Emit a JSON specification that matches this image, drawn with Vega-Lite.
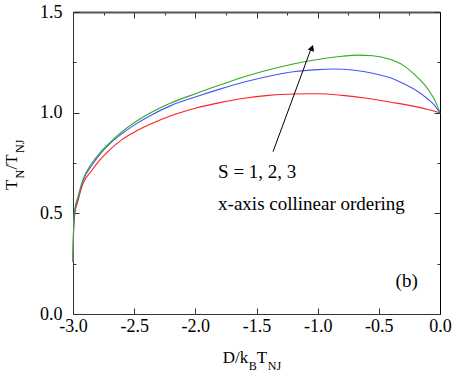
{
  "$schema": "https://vega.github.io/schema/vega-lite/v6.json",
  "width": 367,
  "height": 302,
  "autosize": {"type": "none"},
  "padding": {"left": 73, "top": 12, "right": 17, "bottom": 68},
  "background": "white",
  "config": {
    "view": {"stroke": null},
    "axis": {"grid": false, "domainColor": "#333", "tickColor": "#333", "labelFont": "Liberation Serif", "labelFontSize": 18, "labelColor": "black", "title": null}
  },
  "datasets": {
    "curves": [
      {"x": -3.0, "y": 0.26, "S": "1"}, {"x": -2.995, "y": 0.42, "S": "1"}, {"x": -2.985, "y": 0.5, "S": "1"}, {"x": -2.96, "y": 0.56, "S": "1"}, {"x": -2.92, "y": 0.645, "S": "1"}, {"x": -2.85, "y": 0.71, "S": "1"}, {"x": -2.78, "y": 0.765, "S": "1"}, {"x": -2.7, "y": 0.815, "S": "1"}, {"x": -2.6, "y": 0.866, "S": "1"}, {"x": -2.5, "y": 0.903, "S": "1"}, {"x": -2.37, "y": 0.942, "S": "1"}, {"x": -2.2, "y": 0.985, "S": "1"}, {"x": -2.0, "y": 1.022, "S": "1"}, {"x": -1.8, "y": 1.05, "S": "1"}, {"x": -1.6, "y": 1.072, "S": "1"}, {"x": -1.4, "y": 1.086, "S": "1"}, {"x": -1.2, "y": 1.093, "S": "1"}, {"x": -1.0, "y": 1.094, "S": "1"}, {"x": -0.8, "y": 1.086, "S": "1"}, {"x": -0.6, "y": 1.072, "S": "1"}, {"x": -0.4, "y": 1.052, "S": "1"}, {"x": -0.2, "y": 1.03, "S": "1"}, {"x": -0.1, "y": 1.016, "S": "1"}, {"x": 0.0, "y": 1.0, "S": "1"},
      {"x": -3.0, "y": 0.26, "S": "2"}, {"x": -2.995, "y": 0.43, "S": "2"}, {"x": -2.985, "y": 0.51, "S": "2"}, {"x": -2.96, "y": 0.575, "S": "2"}, {"x": -2.92, "y": 0.66, "S": "2"}, {"x": -2.85, "y": 0.735, "S": "2"}, {"x": -2.78, "y": 0.793, "S": "2"}, {"x": -2.7, "y": 0.845, "S": "2"}, {"x": -2.6, "y": 0.895, "S": "2"}, {"x": -2.5, "y": 0.938, "S": "2"}, {"x": -2.37, "y": 0.985, "S": "2"}, {"x": -2.2, "y": 1.035, "S": "2"}, {"x": -2.0, "y": 1.078, "S": "2"}, {"x": -1.8, "y": 1.117, "S": "2"}, {"x": -1.6, "y": 1.152, "S": "2"}, {"x": -1.4, "y": 1.181, "S": "2"}, {"x": -1.2, "y": 1.203, "S": "2"}, {"x": -1.0, "y": 1.214, "S": "2"}, {"x": -0.87, "y": 1.217, "S": "2"}, {"x": -0.7, "y": 1.211, "S": "2"}, {"x": -0.55, "y": 1.196, "S": "2"}, {"x": -0.4, "y": 1.172, "S": "2"}, {"x": -0.3, "y": 1.145, "S": "2"}, {"x": -0.2, "y": 1.113, "S": "2"}, {"x": -0.1, "y": 1.068, "S": "2"}, {"x": -0.05, "y": 1.04, "S": "2"}, {"x": 0.0, "y": 1.0, "S": "2"},
      {"x": -3.0, "y": 0.26, "S": "3"}, {"x": -2.995, "y": 0.44, "S": "3"}, {"x": -2.985, "y": 0.52, "S": "3"}, {"x": -2.96, "y": 0.58, "S": "3"}, {"x": -2.92, "y": 0.665, "S": "3"}, {"x": -2.85, "y": 0.745, "S": "3"}, {"x": -2.78, "y": 0.8, "S": "3"}, {"x": -2.7, "y": 0.85, "S": "3"}, {"x": -2.6, "y": 0.905, "S": "3"}, {"x": -2.5, "y": 0.95, "S": "3"}, {"x": -2.37, "y": 0.998, "S": "3"}, {"x": -2.2, "y": 1.048, "S": "3"}, {"x": -2.0, "y": 1.094, "S": "3"}, {"x": -1.8, "y": 1.137, "S": "3"}, {"x": -1.6, "y": 1.178, "S": "3"}, {"x": -1.4, "y": 1.213, "S": "3"}, {"x": -1.2, "y": 1.242, "S": "3"}, {"x": -1.0, "y": 1.264, "S": "3"}, {"x": -0.8, "y": 1.28, "S": "3"}, {"x": -0.68, "y": 1.286, "S": "3"}, {"x": -0.55, "y": 1.283, "S": "3"}, {"x": -0.41, "y": 1.265, "S": "3"}, {"x": -0.3, "y": 1.235, "S": "3"}, {"x": -0.2, "y": 1.185, "S": "3"}, {"x": -0.15, "y": 1.155, "S": "3"}, {"x": -0.1, "y": 1.118, "S": "3"}, {"x": -0.05, "y": 1.07, "S": "3"}, {"x": -0.02, "y": 1.03, "S": "3"}, {"x": 0.0, "y": 1.0, "S": "3"}
    ],
    "one": [{}]
  },
  "resolve": {"axis": {"x": "independent", "y": "independent"}},
  "layer": [
    {
      "layer": [
        {
          "data": {"name": "curves"},
          "mark": {"type": "line", "strokeWidth": 1.1, "interpolate": "monotone"},
          "encoding": {
            "x": {"field": "x", "type": "quantitative", "scale": {"domain": [-3, 0], "nice": false, "zero": false},
              "axis": {"orient": "bottom", "values": [-3, -2.75, -2.5, -2.25, -2, -1.75, -1.5, -1.25, -1, -0.75, -0.5, -0.25, 0],
                "labelExpr": "abs(datum.value*2 - round(datum.value*2)) < 0.001 ? (datum.value < 0 ? '-' : '') + format(abs(datum.value), '.1f') : ''",
                "tickSize": {"condition": {"test": "abs(datum.value*2 - round(datum.value*2)) > 0.001", "value": -3}, "value": -6},
                "labelPadding": 9, "labelFlush": false, "labelOverlap": false}},
            "y": {"field": "y", "type": "quantitative", "scale": {"domain": [0, 1.5], "nice": false, "zero": false},
              "axis": {"orient": "left", "values": [0, 0.25, 0.5, 0.75, 1, 1.25, 1.5],
                "labelExpr": "abs(datum.value*2 - round(datum.value*2)) < 0.001 ? format(datum.value, '.1f') : ''",
                "tickSize": {"condition": {"test": "abs(datum.value*2 - round(datum.value*2)) > 0.001", "value": -3}, "value": -6},
                "labelPadding": 17, "labelFlush": false, "labelOverlap": false}},
            "color": {"field": "S", "type": "nominal", "scale": {"domain": ["1", "2", "3"], "range": ["#ff2020", "#4455ff", "#33aa22"]}, "legend": null}
          }
        },
        {
          "data": {"name": "one"},
          "mark": {"type": "rule", "color": "black", "strokeWidth": 1},
          "encoding": {"x": {"datum": -1.365}, "y": {"datum": 0.806}, "x2": {"datum": -1.049}, "y2": {"datum": 1.326}}
        },
        {
          "data": {"name": "one"},
          "mark": {"type": "point", "shape": "triangle-up", "filled": true, "color": "black", "size": 45, "angle": 20, "opacity": 1},
          "encoding": {"x": {"datum": -1.047}, "y": {"datum": 1.322}}
        },
        {
          "data": {"name": "one"},
          "mark": {"type": "text", "align": "left", "baseline": "alphabetic", "font": "Liberation Serif", "fontSize": 19, "color": "black"},
          "encoding": {"x": {"datum": -1.814}, "y": {"datum": 0.676}, "text": {"value": "S = 1, 2, 3"}}
        },
        {
          "data": {"name": "one"},
          "mark": {"type": "text", "align": "left", "baseline": "alphabetic", "font": "Liberation Serif", "fontSize": 19, "color": "black"},
          "encoding": {"x": {"datum": -1.814}, "y": {"datum": 0.517}, "text": {"value": "x-axis collinear ordering"}}
        },
        {
          "data": {"name": "one"},
          "mark": {"type": "text", "align": "right", "baseline": "alphabetic", "font": "Liberation Serif", "fontSize": 19, "color": "black"},
          "encoding": {"x": {"datum": -0.182}, "y": {"datum": 0.134}, "text": {"value": "(b)"}}
        },
        {
          "data": {"name": "one"},
          "mark": {"type": "text", "align": "left", "baseline": "alphabetic", "font": "Liberation Serif", "fontSize": 17, "color": "black"},
          "encoding": {"x": {"datum": -1.776}, "y": {"datum": -0.2434}, "text": {"value": "D/k"}}
        },
        {
          "data": {"name": "one"},
          "mark": {"type": "text", "align": "left", "baseline": "alphabetic", "font": "Liberation Serif", "fontSize": 12, "color": "black"},
          "encoding": {"x": {"datum": -1.563}, "y": {"datum": -0.278}, "text": {"value": "B"}}
        },
        {
          "data": {"name": "one"},
          "mark": {"type": "text", "align": "left", "baseline": "alphabetic", "font": "Liberation Serif", "fontSize": 17, "color": "black"},
          "encoding": {"x": {"datum": -1.498}, "y": {"datum": -0.2434}, "text": {"value": "T"}}
        },
        {
          "data": {"name": "one"},
          "mark": {"type": "text", "align": "left", "baseline": "alphabetic", "font": "Liberation Serif", "fontSize": 12, "color": "black"},
          "encoding": {"x": {"datum": -1.408}, "y": {"datum": -0.278}, "text": {"value": "NJ"}}
        },
        {
          "data": {"name": "one"},
          "mark": {"type": "text", "align": "left", "baseline": "alphabetic", "font": "Liberation Serif", "fontSize": 17, "color": "black", "angle": 270},
          "encoding": {"x": {"datum": -3.46}, "y": {"datum": 0.616}, "text": {"value": "T"}}
        },
        {
          "data": {"name": "one"},
          "mark": {"type": "text", "align": "left", "baseline": "alphabetic", "font": "Liberation Serif", "fontSize": 12, "color": "black", "angle": 270},
          "encoding": {"x": {"datum": -3.399}, "y": {"datum": 0.673}, "text": {"value": "N"}}
        },
        {
          "data": {"name": "one"},
          "mark": {"type": "text", "align": "left", "baseline": "alphabetic", "font": "Liberation Serif", "fontSize": 17, "color": "black", "angle": 270},
          "encoding": {"x": {"datum": -3.46}, "y": {"datum": 0.718}, "text": {"value": "/T"}}
        },
        {
          "data": {"name": "one"},
          "mark": {"type": "text", "align": "left", "baseline": "alphabetic", "font": "Liberation Serif", "fontSize": 12, "color": "black", "angle": 270},
          "encoding": {"x": {"datum": -3.399}, "y": {"datum": 0.8}, "text": {"value": "NJ"}}
        }
      ]
    },
    {
      "data": {"name": "curves"},
      "mark": {"type": "point", "opacity": 0},
      "encoding": {
        "x": {"field": "x", "type": "quantitative",
          "axis": {"orient": "top", "values": [-3, -2.75, -2.5, -2.25, -2, -1.75, -1.5, -1.25, -1, -0.75, -0.5, -0.25, 0], "labels": false, "domainColor": "#555", "domainWidth": 2,
            "tickSize": {"condition": {"test": "abs(datum.value*2 - round(datum.value*2)) > 0.001", "value": -3}, "value": -6}}},
        "y": {"field": "y", "type": "quantitative",
          "axis": {"orient": "right", "values": [0, 0.25, 0.5, 0.75, 1, 1.25, 1.5], "labels": false, "domainColor": "black",
            "tickSize": {"condition": {"test": "abs(datum.value*2 - round(datum.value*2)) > 0.001", "value": -3}, "value": -6}}}
      }
    }
  ]
}
